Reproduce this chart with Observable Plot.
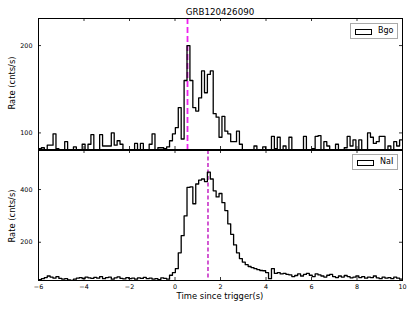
<!DOCTYPE html>
<html><head><meta charset="utf-8">
<script src="https://cdn.jsdelivr.net/npm/d3@7"></script>
<script src="https://cdn.jsdelivr.net/npm/@observablehq/plot@0.6"></script>
<style>
body{margin:0;background:#fff;font-family:"DejaVu Sans",sans-serif;}
#wrap{position:relative;width:415px;height:312px;overflow:hidden;background:#fff;}
#wrap svg{position:absolute;left:0;}
.t{position:absolute;white-space:nowrap;color:#000;font-family:"DejaVu Sans",sans-serif;line-height:1;}
.leg{position:absolute;border:1px solid #aaa;background:#fff;box-sizing:border-box;}
.patch{position:absolute;border:1px solid #000;box-sizing:border-box;background:#fff;}
</style></head><body><div id="wrap"></div>
<script>
const binStart = -6, binWidth = 0.128;
const bgoRate = [82,83,80,86,86,99,82,80,80,90,
 80,78,84,78,78,87,78,87,98,80,
 80,98,85,85,85,100,86,91,87,80,
 78,80,78,88,80,88,80,78,87,99,
 80,83,83,82,84,91,99,106,129,93,
 160,200,160,129,125,140,171,146,167,171,
 122,118,95,119,102,99,90,90,102,87,
 80,78,78,78,85,78,78,84,78,78,
 96,82,95,80,85,80,95,78,78,78,
 80,96,78,80,82,96,97,80,90,85,
 78,80,87,80,78,83,96,85,92,80,
 92,80,78,100,95,88,90,96,96,80,
 85,80,90,85,92];
const naiRate = [58,62,66,72,68,64,70,63,60,62,
 57,55,60,64,66,62,68,65,63,67,
 64,70,62,66,68,60,65,69,63,61,
 66,62,64,60,65,63,67,62,64,60,
 62,58,65,63,60,75,85,100,160,225,
 300,408,410,346,421,436,440,430,466,440,
 395,372,385,350,320,270,230,190,160,138,
 125,115,108,104,100,96,93,92,85,62,
 100,82,85,80,82,78,76,70,74,80,
 72,78,82,75,70,80,76,72,68,75,
 78,70,66,72,68,74,70,65,68,72,
 66,70,64,68,66,72,65,62,68,64,
 66,62,68,64,60];
const xTicks = [-6,-4,-2,0,2,4,6,8,10];
const bgoTicks = [100,200];
const naiTicks = [200,400];
const bgoMarker = 0.55;
const naiMarker = 1.45;
const titleText = "GRB120426090";
const xLabel = "Time since trigger(s)";
const yLabel = "Rate (cnts/s)";

function steps(vals){
  const pts = vals.map((v,i)=>({t: binStart + i*binWidth, v}));
  pts.push({t: binStart + vals.length*binWidth, v: vals[vals.length-1]});
  return pts;
}
const fmt = d => d < 0 ? "\u2212" + (-d) : String(d);
const W = 415, ML = 38, MR = 13;

function panel(o){
  const fw = W - ML - MR, fh = o.height - o.mt - o.mb;
  const marks = [
    Plot.ruleX([o.marker], {stroke:o.markerColor, strokeWidth:o.mw, strokeDasharray:o.dash}),
    Plot.line(steps(o.vals), {x:"t", y:"v", curve:"step-after", stroke:"#000", strokeWidth:1.3, clip:true}),
    Plot.ruleX(xTicks, {insetTop: fh-3, stroke:"#000", strokeWidth:0.8}),
    Plot.ruleX(xTicks, {insetBottom: fh-3, stroke:"#000", strokeWidth:0.8}),
    Plot.ruleY(o.yTicks, {insetRight: fw-3, stroke:"#000", strokeWidth:0.8}),
    Plot.ruleY(o.yTicks, {insetLeft: fw-3, stroke:"#000", strokeWidth:0.8}),
    Plot.axisY(o.yTicks, {anchor:"left", tickSize:0, tickPadding:6, label:null, fill:"#000"}),
    Plot.frame({stroke:"#000", strokeWidth:1})
  ];
  if (o.showX) marks.push(Plot.axisX(xTicks, {anchor:"bottom", tickSize:0, tickPadding:4, label:null, tickFormat: fmt, fill:"#000"}));
  return Plot.plot({
    width: W, height: o.height, marginLeft: ML, marginRight: MR, marginTop: o.mt, marginBottom: o.mb,
    style: {fontFamily:"'DejaVu Sans', sans-serif", fontSize:"6.4px", color:"#000", background:"transparent", overflow:"visible"},
    x: {domain:[-6,10], axis: o.showX ? undefined : null},
    y: {domain: o.yDomain},
    marks
  });
}

const wrap = document.getElementById("wrap");
const top1 = panel({vals: bgoRate, yDomain:[81,231], yTicks: bgoTicks, marker: bgoMarker, markerColor:"#ee22ee", mw:1.8, dash:"6,3", height:150, mt:18, mb:1, showX:false});
top1.style.top = "0px";
const bot = panel({vals: naiRate, yDomain:[55,548], yTicks: naiTicks, marker: naiMarker, markerColor:"#bb00bb", mw:1.3, dash:"4,2.5", height:163, mt:1, mb:32, showX:true});
bot.style.top = "149px";
wrap.appendChild(top1);
wrap.appendChild(bot);

function addText(txt, x, y, size, extra){
  const d = document.createElement("div");
  d.className = "t";
  d.textContent = txt;
  d.style.fontSize = size + "px";
  d.style.left = x + "px";
  d.style.top = y + "px";
  d.style.transform = "translate(-50%,-50%)" + (extra || "");
  wrap.appendChild(d);
  return d;
}
addText(titleText, 220, 12, 8.7);
addText(xLabel, 220, 295.5, 8.4);
addText(yLabel, 12, 83, 8.4, " rotate(-90deg)");
addText(yLabel, 12, 215.5, 8.4, " rotate(-90deg)");

function legend(label, x, y, w, h){
  const b = document.createElement("div");
  b.className = "leg";
  b.style.left = x + "px"; b.style.top = y + "px"; b.style.width = w + "px"; b.style.height = h + "px";
  const p = document.createElement("div");
  p.className = "patch";
  p.style.left = "4px"; p.style.top = (h/2 - 3.5) + "px"; p.style.width = "17px"; p.style.height = "6px";
  b.appendChild(p);
  const t = document.createElement("div");
  t.className = "t";
  t.textContent = label;
  t.style.fontSize = "8px";
  t.style.left = "27px"; t.style.top = (h/2 - 5) + "px";
  b.appendChild(t);
  wrap.appendChild(b);
}
legend("Bgo", 350, 23, 48, 16);
legend("NaI", 352, 154, 46, 16);
</script></body></html>
